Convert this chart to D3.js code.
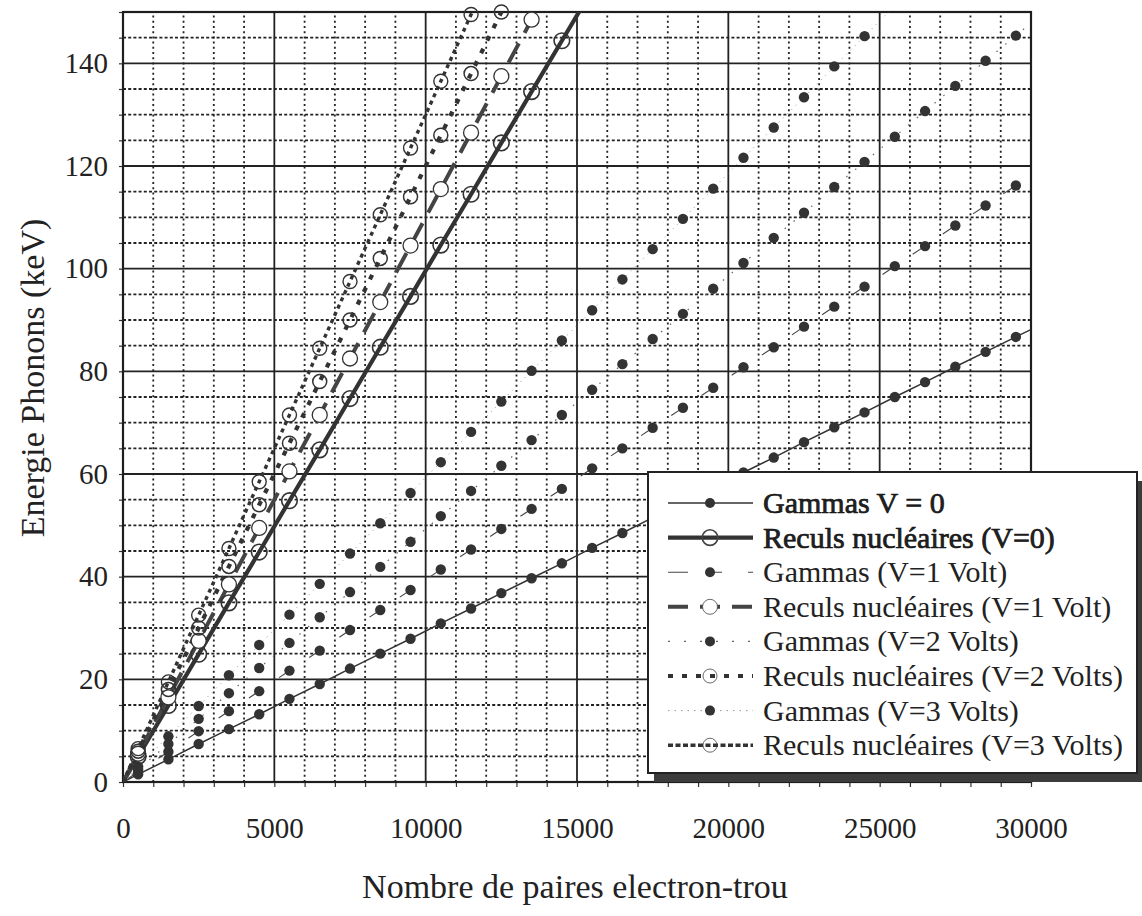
<!DOCTYPE html>
<html>
<head>
<meta charset="utf-8">
<script src="https://cdn.jsdelivr.net/npm/d3@7"></script>
<style>
  html, body { margin: 0; padding: 0; background: #fff; }
  svg { display: block; }
  text { font-family: "Liberation Serif", "Times New Roman", serif; fill: #222; }
</style>
</head>
<body>
<svg id="chart" width="1142" height="916"></svg>
<script>
// Number of electron-hole pairs at which every curve is sampled
const pairs = [500, 1500, 2500, 3500, 4500, 5500, 6500, 7500, 8500, 9500,
               10500, 11500, 12500, 13500, 14500, 15500, 16500, 17500, 18500, 19500,
               20500, 21500, 22500, 23500, 24500, 25500, 26500, 27500, 28500, 29500];

// Phonon energy (keV) for gammas at each bias voltage
const gammasV0 = [1.5, 4.4, 7.4, 10.3, 13.2, 16.2, 19.1, 22.1, 25.0, 27.9,
                  30.9, 33.8, 36.8, 39.7, 42.6, 45.6, 48.5, 51.5, 54.4, 57.3,
                  60.3, 63.2, 66.2, 69.1, 72.0, 75.0, 77.9, 80.9, 83.8, 86.7];
const gammasV1 = [2.0, 5.9, 9.9, 13.8, 17.7, 21.7, 25.6, 29.6, 33.5, 37.4,
                  41.4, 45.3, 49.3, 53.2, 57.1, 61.1, 65.0, 69.0, 72.9, 76.8,
                  80.8, 84.7, 88.7, 92.6, 96.5, 100.5, 104.4, 108.4, 112.3, 116.2];
const gammasV2 = [2.5, 7.4, 12.3, 17.3, 22.2, 27.1, 32.1, 37.0, 41.9, 46.8,
                  51.8, 56.7, 61.6, 66.6, 71.5, 76.4, 81.4, 86.3, 91.2, 96.1,
                  101.1, 106.0, 110.9, 115.9, 120.8, 125.7, 130.7, 135.6, 140.5, 145.4];
const gammasV3 = [3.0, 8.9, 14.8, 20.8, 26.7, 32.6, 38.6, 44.5, 50.4, 56.3,
                  62.3, 68.2, 74.1, 80.1, 86.0, 91.9, 97.9, 103.8, 109.7, 115.6,
                  121.6, 127.5, 133.4, 139.4, 145.3];

// Phonon energy (keV) for nuclear recoils at each bias voltage
const recoilsV0 = [5.0, 14.9, 24.9, 34.9, 44.8, 54.8, 64.7, 74.7, 84.7, 94.6,
                   104.6, 114.5, 124.5, 134.5, 144.4];
const recoilsV1 = [5.5, 16.5, 27.5, 38.5, 49.5, 60.5, 71.5, 82.5, 93.5, 104.5,
                   115.5, 126.5, 137.5, 148.5];
const recoilsV2 = [6.0, 18.0, 30.0, 42.0, 54.0, 66.0, 78.0, 90.0, 102.0, 114.0,
                   126.0, 138.0, 150.0];
const recoilsV3 = [6.5, 19.5, 32.5, 45.5, 58.5, 71.5, 84.5, 97.5, 110.5, 123.5,
                   136.5, 149.5];

const seriesNames = [
  "Gammas V = 0",
  "Reculs nucléaires (V=0)",
  "Gammas (V=1 Volt)",
  "Reculs nucléaires (V=1 Volt)",
  "Gammas (V=2 Volts)",
  "Reculs nucléaires (V=2 Volts)",
  "Gammas (V=3 Volts)",
  "Reculs nucléaires (V=3 Volts)"
];

const xTicks = [0, 5000, 10000, 15000, 20000, 25000, 30000];
const yTicks = [0, 20, 40, 60, 80, 100, 120, 140];
const xTitle = "Nombre de paires electron-trou";
const yTitle = "Energie Phonons (keV)";

// Drawing styles, one per series (same order as seriesNames)
const styles = [
  { kind: "gamma",  width: 1.5, color: "#333", dash: null },
  { kind: "recoil", width: 4.2, color: "#333", dash: null, fill: "none", r: 7.8, sw: 1.6 },
  { kind: "gamma",  width: 1.1, color: "#444", dash: "aligned" },
  { kind: "recoil", width: 4.0, color: "#444", dash: "22,12", fill: "#fff", r: 7.5, sw: 1.3 },
  { kind: "gamma",  width: 1.2, color: "#666", dash: "1.5,10" },
  { kind: "recoil", width: 4.2, color: "#333", dash: "5,9", fill: "none", r: 7, sw: 1.5 },
  { kind: "gamma",  width: 0.9, color: "#888", dash: "1,5" },
  { kind: "recoil", width: 3.4, color: "#333", dash: "4,4", fill: "none", r: 7, sw: 1.4 }
];

const seriesValues = [gammasV0, recoilsV0, gammasV1, recoilsV1, gammasV2, recoilsV2, gammasV3, recoilsV3];

const series = seriesNames.map((name, i) => ({
  name,
  style: styles[i],
  points: seriesValues[i].map((e, j) => [pairs[j], e])
}));

const svg = d3.select("#chart");
const x = d3.scaleLinear().domain([0, 30000]).range([123, 1031]);
const y = d3.scaleLinear().domain([0, 150]).range([782, 12]);
const [x0, x1] = x.range();
const [y0, y1] = y.range();

svg.append("rect").attr("width", 1142).attr("height", 916).attr("fill", "#fff");

svg.append("defs").append("clipPath").attr("id", "plotArea")
  .append("rect").attr("x", x0).attr("y", y1).attr("width", x1 - x0).attr("height", y0 - y1);

// ---- grid ----
const grid = svg.append("g");
const minorX = x.ticks(30).filter(v => v % 5000 !== 0);
const majorX = x.ticks(30).filter(v => v % 5000 === 0 && v > 0 && v < 30000);
const minorY = y.ticks(30).filter(v => v % 20 !== 0);
const majorY = y.ticks(30).filter(v => v % 20 === 0 && v > 0);

grid.selectAll(".vminor").data(minorX).join("line")
  .attr("x1", d => x(d)).attr("x2", d => x(d)).attr("y1", y0).attr("y2", y1)
  .attr("stroke", "#222").attr("stroke-width", 1.8).attr("stroke-dasharray", "2,3.2");
grid.selectAll(".hminor").data(minorY).join("line")
  .attr("y1", d => y(d)).attr("y2", d => y(d)).attr("x1", x0).attr("x2", x1)
  .attr("stroke", "#222").attr("stroke-width", 1.8).attr("stroke-dasharray", "3,2.2");
grid.selectAll(".vmajor").data(majorX).join("line")
  .attr("x1", d => x(d)).attr("x2", d => x(d)).attr("y1", y0).attr("y2", y1)
  .attr("stroke", "#222").attr("stroke-width", 1.8);
grid.selectAll(".hmajor").data(majorY).join("line")
  .attr("y1", d => y(d)).attr("y2", d => y(d)).attr("x1", x0).attr("x2", x1)
  .attr("stroke", "#222").attr("stroke-width", 1.8);

// small outward ticks along the bottom and left edges
svg.append("g").attr("transform", `translate(0,${y0})`)
  .call(d3.axisBottom(x).tickValues(x.ticks(30)).tickSize(5).tickFormat(""))
  .call(g => g.select(".domain").remove())
  .call(g => g.selectAll("line").attr("stroke", "#333").attr("stroke-width", 1.2));
svg.append("g").attr("transform", `translate(${x0},0)`)
  .call(d3.axisLeft(y).tickValues(y.ticks(30)).tickSize(4).tickFormat(""))
  .call(g => g.select(".domain").remove())
  .call(g => g.selectAll("line").attr("stroke", "#333").attr("stroke-width", 1.2));

// frame
svg.append("rect").attr("x", x0).attr("y", y1).attr("width", x1 - x0).attr("height", y0 - y1)
  .attr("fill", "none").attr("stroke", "#1e1e1e").attr("stroke-width", 2.2);

// ---- axes labels ----
const xAxis = svg.append("g").attr("transform", `translate(0,${y0})`)
  .call(d3.axisBottom(x).tickValues(xTicks).tickSize(0).tickPadding(35).tickFormat(d3.format("d")));
xAxis.select(".domain").remove();
xAxis.selectAll("text").attr("font-size", 29).attr("font-family", "Liberation Serif").attr("fill", "#222");

const yAxis = svg.append("g").attr("transform", `translate(${x0},0)`)
  .call(d3.axisLeft(y).tickValues(yTicks).tickSize(0).tickPadding(15).tickFormat(d3.format("d")));
yAxis.select(".domain").remove();
yAxis.selectAll("text").attr("font-size", 29).attr("font-family", "Liberation Serif").attr("fill", "#222");

svg.append("text").attr("x", 575).attr("y", 898).attr("text-anchor", "middle")
  .attr("font-size", 34).text(xTitle);
svg.append("text").attr("transform", "translate(44,378) rotate(-90)").attr("text-anchor", "middle")
  .attr("font-size", 34).text(yTitle);

// ---- curves ----
const line = d3.line().x(d => x(d[0])).y(d => y(d[1]));
const plot = svg.append("g").attr("clip-path", "url(#plotArea)");

function pathPoints(pts) {
  // start at the origin and run past the last sample to the frame edge
  const n = pts.length;
  const a = pts[n - 2], b = pts[n - 1];
  const ext = [b[0] + (b[0] - a[0]) * 3, b[1] + (b[1] - a[1]) * 3];
  return [[0, 0], ...pts, ext];
}

function pixelDist(p, q) {
  return Math.hypot(x(q[0]) - x(p[0]), y(q[1]) - y(p[1]));
}

const drawOrder = [0, 2, 4, 6, 1, 3, 5, 7];
drawOrder.forEach(i => {
  const s = series[i];
  const p = plot.append("path").datum(pathPoints(s.points))
    .attr("d", line).attr("fill", "none")
    .attr("stroke", s.style.color).attr("stroke-width", s.style.width)
    .attr("stroke-linecap", "butt");
  if (s.style.dash === "aligned") {
    // a short dash leading into each sample
    const L = pixelDist(s.points[0], s.points[1]);
    const first = pixelDist([0, 0], s.points[0]);
    const d = 12;
    p.attr("stroke-dasharray", `${d},${L - d}`).attr("stroke-dashoffset", d - first);
  } else if (s.style.dash) {
    p.attr("stroke-dasharray", s.style.dash);
  }
});

// gamma markers
[0, 2, 4, 6].forEach(i => {
  svg.append("g").selectAll("circle").data(series[i].points).join("circle")
    .attr("cx", d => x(d[0])).attr("cy", d => y(d[1])).attr("r", 5.2)
    .attr("fill", "#333");
});
// recoil markers
[1, 3, 5, 7].forEach(i => {
  const st = series[i].style;
  svg.append("g").selectAll("circle").data(series[i].points).join("circle")
    .attr("cx", d => x(d[0])).attr("cy", d => y(d[1])).attr("r", st.r)
    .attr("fill", st.fill).attr("stroke", "#333").attr("stroke-width", st.sw);
});

// ---- legend ----
const lg = svg.append("g").attr("transform", "translate(648,472)");
const lw = 489, lh = 301;
lg.append("rect").attr("x", 6).attr("y", 9).attr("width", lw).attr("height", lh).attr("fill", "#3c3c3c");
lg.append("rect").attr("width", lw).attr("height", lh).attr("fill", "#fff")
  .attr("stroke", "#222").attr("stroke-width", 2);

const legendDash = ["", "", "20,22,12,26", "20,12", "2,14", "5,9", "1.5,5", "5,2.5"];
series.forEach((s, i) => {
  const cy = 31 + i * 34.6;
  const row = lg.append("g").attr("transform", `translate(0,${cy})`);
  row.append("line").attr("x1", 20).attr("x2", 105).attr("y1", 0).attr("y2", 0)
    .attr("stroke", s.style.color).attr("stroke-width", s.style.width)
    .attr("stroke-dasharray", legendDash[i] || null);
  if (s.style.kind === "gamma") {
    row.append("circle").attr("cx", 62).attr("cy", 0).attr("r", 5).attr("fill", "#333");
  } else {
    row.append("circle").attr("cx", 62).attr("cy", 0).attr("r", s.style.r)
      .attr("fill", s.style.fill).attr("stroke", "#444").attr("stroke-width", i === 1 ? 1.6 : 0.8);
  }
  const t = row.append("text").attr("x", 115).attr("y", 10).attr("font-size", 30).text(s.name);
  if (i < 2) {
    t.attr("fill", "#111").attr("stroke", "#111").attr("stroke-width", 0.7);
  } else {
    t.attr("fill", "#333");
  }
});
</script>
</body>
</html>
